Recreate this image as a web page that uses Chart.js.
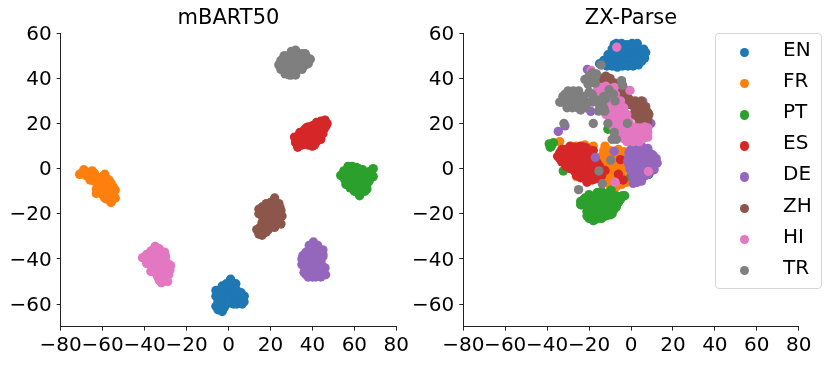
<!DOCTYPE html>
<html>
<head>
<meta charset="utf-8">
<title>mBART50 / ZX-Parse</title>
<script src="https://cdn.jsdelivr.net/npm/chart.js@4"></script>
<style>
    html, body { margin: 0; padding: 0; background: #fff; overflow: hidden; width: 831px; height: 365px; }
    body { position: relative; font-family: "DejaVu Sans", sans-serif; }
    .panel { position: absolute; top: 0; height: 365px; }
    #panel-left { left: 0; width: 457px; }
    #panel-right { left: 410px; width: 442px; }
    #legend { position: absolute; left: 715px; top: 33px; width: 105px; height: 254px; border: 1px solid #d5d5d5; border-radius: 4px; background: #fff; }
    .legend-row { position: absolute; left: 0; width: 100%; height: 31px; line-height: 31px; font-size: 20px; color: #000; }
    .legend-dot { position: absolute; left: 24px; top: 11px; width: 9.4px; height: 9.4px; border-radius: 50%; }
    .legend-label { position: absolute; left: 67px; top: -3px; }
</style>
</head>
<body>
<div class="panel" id="panel-left"><canvas id="chart-left"></canvas></div>
<div class="panel" id="panel-right"><canvas id="chart-right"></canvas></div>
<div id="legend"></div>
<script>
// Noms et couleurs des langues
const languages = ['EN', 'FR', 'PT', 'ES', 'DE', 'ZH', 'HI', 'TR'];
const colors = ['#1f77b4', '#ff7f0e', '#2ca02c', '#d62728', '#9467bd', '#8c564b', '#e377c2', '#7f7f7f'];
const xTicks = [-80, -60, -40, -20, 0, 20, 40, 60, 80];
const yTicks = [-60, -40, -20, 0, 20, 40, 60];

// mBART50 : points
const mbartEN = [[1,-49],[-1,-51],[3.5,-51],[-3,-52],[-6,-54],[-6,-56.5],[-2,-54],[1,-53],[4,-54],[6,-55],[7.5,-56.5],[7.4,-59],[5,-58],[2,-57],[-1,-57],[-4,-58],[-6,-61],[-4,-61],[-3,-63.3],[-1,-60],[1,-59.5],[4,-60],[6.5,-60],
    [-4,-54],[-1,-52.5],[2,-51],[3,-53],[0,-55],[-3,-56],[2.5,-55],[5,-56],[0.5,-57],[-2.5,-59],[3.5,-58.5],[6,-58],[-5,-59],[-2,-61.5],[0,-59],[2.5,-60],[-5,-62.5],[7,-58]];
const mbartFR = [[-71,-2.5],[-69,-0.5],[-68,-3],[-66,-4.5],[-64,-2],[-64,-5.5],[-62,-7],[-61,-4],[-60,-3.5],[-60,-9],[-60,-11.5],[-59,-6],[-58,-9],[-57,-7],[-57,-12],[-56,-14.5],[-55,-10],[-54,-9.5],[-54,-13],[-58,-13.5],[-62,-10.5],[-63,-3.5],
    [-66,-2.5],[-68,-1.5],[-62,-5],[-60,-5],[-61,-7.5],[-58,-4.5],[-58,-7],[-59,-11],[-56,-9],[-56,-11.5],[-55,-12.5],[-57,-10],[-60,-7],[-61,-9.5],[-55,-8],[-64,-4],[-69.5,-2],[-56,-6.5],
    [-57,-5],[-59,-2.5],[-63,-9],[-63,-11],[-59,-13],[-56,-15],[-62,-8.5],[-66,-5],[-65,-1]];
const mbartPT = [[53.5,-3],[55,-1],[55.5,-5],[56,-7],[57,1],[58,-3],[58,-8.5],[59,-1],[60,-10],[60,-5.5],[61,0.5],[62,-3],[62.5,-12],[63,-8],[64,-5],[64,-0.5],[65,-10],[66,-2.5],[66,-7],[68,-4],[68,-1],[69,0],[69,-3.5],[67,-5.5],
    [56,-3],[57,-5.5],[59,-3.5],[60,-7.5],[61,-2],[62,-5.5],[63,-1.5],[64,-3],[65,-6],[63,-10.5],[61,-9],[59,1],[57.5,-1],[66,-4.5],[67,-1.5],[60,-1],[62,0],[66,-9],[64,-8.5],[58,-6],[68,-2.5]];
const mbartES = [[31.5,14],[32,11.5],[33,9.5],[34,13],[34,16],[36,11],[36,15],[37,18],[38,10.5],[38,13.5],[39,16.5],[40,10],[40,19],[41,13],[42,16],[42,12],[43,19.5],[44,15],[44,21],[45.5,17.5],[46,21.5],[46.5,19],[44,13],
    [33,12],[35,13],[35,10.5],[37,12.5],[37,15.5],[39,12],[39,14.5],[40,16],[41,10.5],[41,18],[43,14],[43,17],[45,15.5],[45,19],[36,17],[38,18.5],[42,20.5],[32,13],[44,18],[47,20]];
const mbartDE = [[40.5,-32.5],[38.5,-34],[42.5,-34],[45,-36],[37,-37],[40,-37],[43,-38],[35,-40],[35,-42.5],[38,-41],[41,-41],[44,-41],[37,-45],[40,-45],[43,-44],[46,-44],[37,-47],[40,-48],[43,-47.5],[46.3,-47],[35.5,-38.5],
    [38,-36.5],[41,-35],[43,-36],[39,-39],[42,-39],[36.5,-40],[37,-43],[40,-43],[42.5,-42],[45,-39],[38.5,-46],[41.5,-46],[44.5,-46],[44.5,-43],[38,-48],[36,-46],[41.5,-48],[44,-48],[45,-38]];
const mbartZH = [[22,-13],[24,-15.5],[20,-15],[18,-15.5],[16,-17],[15,-20],[16.5,-22],[19,-18.5],[22,-18],[25,-18.5],[25.5,-21],[23,-22],[20,-21.5],[18,-24],[21,-25],[25,-24.5],[15,-26],[13.5,-27],[16,-29.5],[18,-28],[19,-27],
    [17,-19],[20,-19],[23,-20],[24.5,-17],[21,-17],[18,-21],[21,-23],[24,-23],[22,-26],[19,-25],[17,-26],[14.5,-20],[14.5,-18],[16,-24],[22,-15],[17,-28.5],[14.5,-29],[23,-24.5]];
const mbartHI = [[-35,-34.5],[-33,-35.5],[-37,-36.5],[-39,-38],[-41,-39.5],[-35,-38],[-32,-38],[-30,-39],[-37,-40],[-39,-42],[-34,-41],[-31,-41.5],[-29,-42],[-27.6,-43],[-36,-44],[-33,-45],[-30,-45],[-28.5,-47],[-34,-47.5],[-31,-48],[-32,-50.5],[-29,-50],[-37,-45.5],
    [-37,-38],[-35,-36],[-33,-37],[-36,-40],[-33,-39.5],[-30.5,-37],[-37.5,-42],[-35,-42],[-32,-43],[-29,-44],[-34.5,-44],[-31,-43.5],[-32,-46],[-30,-47.5],[-33,-49.5],[-28,-45],[-35,-46],[-39,-40],[-31,-50]];
const mbartTR = [[24,46],[25,44],[25,48],[27,42],[27,50],[28,45],[28,47.5],[29,41.5],[30,52],[30,44],[31,48],[32,52.5],[32,43],[33,46],[34,50],[35,44],[35,51],[36,47],[37,50],[38,46.5],[39,48.5],[33,44],
    [26,46],[29.5,46],[31,45],[31,50],[29,49.5],[33,48.5],[34.5,47.5],[36,45.5],[37,48],[33,51],[28,43],[30,41.5],[26.5,50],[35.5,49],[24.5,46.5],[32,41.5],[38,48],[36.5,51]];

// ZX-Parse : points
const zxEN = [[-7,55.5],[-4.5,55.5],[-2,55],[0.5,55.5],[3,55.5],[-9,53],[-6.5,53],[-4,53.5],[-1.5,53],[1,53.5],[3.5,53],[6,53],
    [-11,50.5],[-8.5,50.5],[-6,50],[-3.5,50.5],[-1,50.5],[1.5,50],[4,50.5],[6,51],[-13,48],[-10.5,48],[-8,48],[-5.5,48],[-3,47.5],[-0.5,48],[2,48],[4,48],
    [-14,46],[-11.5,45.5],[-9,45.5],[-6.5,45],[-4,45.5],[-1.5,45.5],[1,45.5],[3.5,46],[-8,55],[7,51.5],[6.5,49],[-15,46.5],[5,47.5],[8.5,-2.5]];
const zxFR = [[-34,12],[-26,10],[-22,10.5],[-12.4,10],[-11.6,7],[-12,2.5],[-6,6],[-3.7,5.5],[-7.6,1],[-4.5,-0.5],[-9,-3.5],[-6,-5.5],[-4.5,-7],[-10,-5.5],[-9,-1],[-13,-2],[-26,-3.5],[-14,5.5],[-9,4],
    [-10,8],[-8,5],[-11,-1],[-7,-7],[-8,-2],[-5,2],[-11,4.5],[-14,0],[-3,0],[-3,-4],[-12,-5],[-25,8],[-20,9],[-18,10],
    [-6,8.5],[-3,7.5],[-13,8],[-10,1],[-7,3],[-5,-3],[-8,-5],[-11,-3.5],[-2,-6],[-10,-7.5],[-7,-8]];
const zxPT = [[-23.5,-16],[-22,-13],[-21,-19],[-21,-15],[-20,-22],[-19,-12.5],[-18,-16],[-18,-23],[-17,-19.5],[-16,-10.5],[-16,-13],[-15,-14],[-15,-20],[-13,-12],[-13,-17],[-12,-21],[-11,-14],[-10,-18],[-9,-20],[-9.5,-9.5],[-8,-15],[-7,-12],[-6,-15],[-4,-12],
    [-23,-14],[-20,-17],[-19,-20],[-17,-14.5],[-16,-17],[-14,-10],[-14,-22],[-12,-15],[-12,-18.5],[-11,-11],[-9,-13],[-8,-18],[-6,-12.5],[-20,-11.5],[-16,-22],[-14,-18.5],[-5,-13.5],[-7,-17],
    [-24,-14.5],[-21,-21],[-18,-18],[-17,-22.5],[-13,-14.5],[-10,-16],[-10,-20.5],[-7,-14.5],[-3,-12],[-24,-16],
    [-39,11],[-38,10],[-37,11.5],[-38.5,9.5],[-32.3,-1],[-11,17.5],[0,-3.5]];
const zxES = [[-33,6],[-33,3],[-31,8.5],[-30,5],[-30,2],[-28,9],[-28,6],[-27,2],[-26,-1],[-25,5],[-25,1],[-24,-4],[-23,8],[-22,3],[-22,-1],[-21,-4],[-20,6],[-19,1],[-19,-3],[-18,8],[-17,4],[-17,-1],[-16,-4],[-15,1],[-29,10],[-32,4],
    [-34,4.5],[-34,7],[-31,1],[-29,0],[-28,3.5],[-31,6],[-26,7],[-26,3.5],[-23.5,5.5],[-23.5,2],[-24,-1.5],[-22,6],[-21,9],[-20,3],[-20,-1],[-18,5.5],[-18.5,-5],[-16,2.5],[-16,-2],[-14,-3],[-27,-1],[-24,10],[-20,-5],
    [-35,5.5],[-33,8.5],[-29,8],[-27,9.5],[-21,0.5],[-18,3],[-15,-1.5],[-26,-3],[-23,-3],[-21,-6],[-17,-4.5],[-22,9.5],
    [-5,4],[-6,-2.5],[-3.7,-5],[-12.4,-0.8]];
const zxDE = [[2,10],[5,10],[8,9],[-1,5],[1,6],[4,6],[7,6],[9.5,6.5],[11,4],[-1,2],[2,2],[5,3],[8,3],[11,1],[12.5,2.5],[0,-1],[3,-1],[6,-0.5],[9,-1],[1,-4],[4,-4],[7,-3],[3,-6],
    [3.5,8.5],[6.5,8],[0,8.5],[0.5,4],[3,4],[6,4.5],[9.5,4],[1.5,0.5],[4,1],[7,1],[9.5,1.5],[1.5,-2.5],[4.5,-2.5],[7,-1],[2,-6],[5,-5.5],
    [10.5,6],[12,4.5],[5.5,6.5],[2.5,7.5],[-1,7],[-1.5,3.5],[-0.5,0],[8,-2.5],[11,-0.5],[1,-6.5],
    [-17,5],[-8,7.7],[-34.7,16.5],[-31.5,19],[-20.8,44],[-19.2,25.4],[9.5,20],[5.6,29.8]];
const zxZH = [[-14,40],[-11,38.5],[-8,38],[-6,35],[-3,33],[-1,31],[2,30],[4,28],[5,26],[6,24],[7,22],[3,23],[6,20],
    [6,27],[8,25],[8,22.5],[6,22],[3,27],[1,28],[0,30],[4,21],[4,25.5],[2,26.5],[-2,30],[-4,31],[-7,33],[-9,36],[-13,38],[-10,40],[-5,34.5],[7,20],
    [5,30],[7,27.5],[8.5,24],[2.5,24.5],[1,24],[-1,28.5],[-6,37],[-3,35],[-12,41],[8,20.5]];
const zxHI = [[-14,36],[-12,36.5],[-10,35.5],[-8,36],[-15,33],[-12.5,33],[-10,33],[-7.5,33],[-14.5,30],[-12,30],[-9.5,30],[-7,30],[-5,30],
    [-13,27],[-10.5,27],[-8,27],[-5.5,27],[-3.5,27],[-12,24],[-9.5,24],[-7,24],[-4.5,24],[-2,24],[-10,21],[-7.5,21],[-5,21],[-2.5,21],[-1,21],
    [-8.5,18.5],[-6,18.5],[-3.5,18.5],[-1,18.5],[1.5,18.5],[4,18],[6.5,18.5],[8,18],[-7,16],[-4.5,16],[-2,16],[0.5,16],[3,16],[5.5,16],[8,16],
    [-4,13.5],[-1.5,13.5],[1,13.5],[3.5,13.5],[6,13.5],[8,14],[-2,12],[1,12],[4,12],
    [-3,22.5],[-6,25.5],[-9,25.5],[-11,28.5],[-8,31.5],[-11,31.5],[-13,34.5],[-5,19.5],[-8,19.5],[2,14.5],[5,15],[7,17],[-1,17],[-3,14.5],[2.5,17.5],[-13,25.5],[-16,36],[-16,31],
    [-6.8,53.8],[-0.5,34.7],[8.3,-1.2],[-7.6,-6],[-19,43.5]];
const zxTR = [[-30,34.5],[-27.5,34.5],[-25,34.5],[-32.5,32],[-30,32],[-27.5,32],[-25,32],[-22.5,32],[-33,29.5],[-30.5,29.5],[-28,29.5],[-25.5,29.5],[-23,29.5],[-20.5,29.5],[-18.5,29.5],
    [-30.5,27],[-28,27],[-25.5,27],[-23,27],[-21.5,27],[-24,26],[-18.5,33],[-16.5,30.5],[-20,34],[-31.5,33],[-34,29.5],
    [-22,39.5],[-20,41],[-18.5,42.5],[-17,40.5],[-19.5,38],[-17,38],[-20.5,37.5],[-16.5,42],[-14.3,46],[-4.5,39],[-4,37],
    [-10.5,35],[-13,32],[-8.4,33],[-7.6,30],[-15,28],[-13,27],[-15.5,25.5],[-12.5,25.5],[-13.5,29.5],[-12,31],
    [-32,20],[-18,20],[-11,20],[-1.7,20],[-8,16],[-9,13],[-7,13],[-9.7,3.8],[-15.3,-1],[-13.7,-6.7],[-25,-9.3]];

const mbartSeries = [mbartEN, mbartFR, mbartPT, mbartES, mbartDE, mbartZH, mbartHI, mbartTR];
const zxSeries = [zxEN, zxFR, zxPT, zxES, zxDE, zxZH, zxHI, zxTR];

const FONT = '"DejaVu Sans", sans-serif';

// Chart.js dessine le premier dataset au-dessus : on inverse pour garder TR devant
function toDatasets(series) {
    return series.map((points, i) => ({
        label: languages[i],
        data: points.map(p => ({ x: p[0], y: p[1] })),
        order: series.length - i,
        backgroundColor: colors[i],
        borderWidth: 0,
        pointRadius: 4.7,
        pointHoverRadius: 4.7
    }));
}

function tickLabel(value) {
    return String(value).replace('-', '\u2212');
}

// Les deux axes (gauche et bas) ont une taille fixe pour coller à la figure
function axisOptions(tickValues, min, max, fixSize, padding, labelOffset) {
    return {
        type: 'linear',
        min: min,
        max: max,
        afterBuildTicks: scale => { scale.ticks = tickValues.map(v => ({ value: v })); },
        afterFit: fixSize,
        ticks: {
            autoSkip: false,
            maxRotation: 0,
            color: '#000',
            padding: padding,
            labelOffset: labelOffset,
            font: { family: FONT, size: 20 },
            callback: tickLabel
        },
        grid: { drawOnChartArea: false, drawTicks: true, tickLength: 4, color: '#222', lineWidth: 1 },
        border: { display: true, color: '#222', width: 1 }
    };
}

// Axe droit invisible : même marge des deux côtés pour que le titre reste centré sur les axes
function spacerAxis(margin) {
    return {
        type: 'linear',
        position: 'right',
        min: -70,
        max: 60,
        ticks: { display: false },
        grid: { display: false },
        border: { display: false },
        afterFit: scale => { scale.width = margin; }
    };
}

function drawPanel(canvasId, title, series, margin) {
    new Chart(document.getElementById(canvasId), {
        type: 'scatter',
        data: { datasets: toDatasets(series) },
        options: {
            responsive: true,
            maintainAspectRatio: false,
            animation: false,
            layout: { padding: 0 },
            plugins: {
                legend: { display: false },
                tooltip: { enabled: false },
                title: {
                    display: true,
                    text: title,
                    color: '#000',
                    font: { family: FONT, size: 21, weight: 'normal', lineHeight: 1.2 },
                    padding: { top: 6, bottom: 2.1 }
                }
            },
            scales: {
                x: axisOptions(xTicks, -80, 80, scale => { scale.height = 38.4; }, 3, 0),
                y: axisOptions(yTicks, -70, 60, scale => { scale.width = margin; }, 5, 1.5),
                spacer: spacerAxis(margin)
            }
        }
    });
}

function renderLegend() {
    const box = document.getElementById('legend');
    box.innerHTML = languages.map((name, i) => `
        <div class="legend-row" style="top:${3 + i * 31.1}px">
            <span class="legend-dot" style="background:${colors[i]}"></span>
            <span class="legend-label">${name}</span>
        </div>
    `).join('');
}

drawPanel('chart-left', 'mBART50', mbartSeries, 60.7);
drawPanel('chart-right', 'ZX-Parse', zxSeries, 53.3);
renderLegend();
</script>
</body>
</html>
